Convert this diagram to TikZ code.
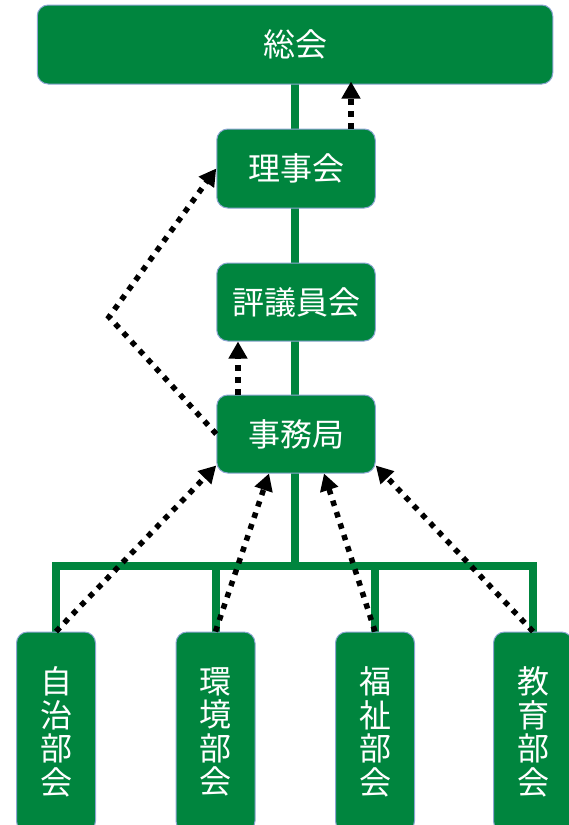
\documentclass[tikz,border=0pt]{standalone}
\usepackage{fontspec}
\setmainfont{Noto Sans CJK JP}
\usetikzlibrary{arrows.meta,backgrounds}
\definecolor{boxgreen}{RGB}{0,133,62}
\definecolor{boxedge}{RGB}{140,165,210}
\begin{document}
\begin{tikzpicture}[x=1pt,y=-1pt,
  box/.style={draw=boxedge,line width=1pt,fill=boxgreen,rounded corners=11pt,text=white,inner sep=0pt,align=center,font=\fontsize{32}{33.5}\selectfont},
  tree/.style={draw=boxgreen,line width=8pt,line join=miter},
  dotarrow/.style={draw=black,line width=5.5pt,dash pattern=on 5.5pt off 6.5pt,-{Triangle[width=18pt,length=17pt]}}]
\useasboundingbox (0,0) rectangle (568,825);
% upper boxes
\node[box,minimum width=515.5pt,minimum height=79pt] (soukai) at (295,44.5) {総会};
\node[box,minimum width=158.5pt,minimum height=79pt] (rijikai) at (296,168.5) {理事会};
\node[box,minimum width=158.5pt,minimum height=78pt] (hyogi) at (296,302) {評議員会};
\node[box,minimum width=158.5pt,minimum height=78pt] (jimu) at (296,434) {事務局};
% lower boxes
\node[box,minimum width=79pt,minimum height=200pt] (b1) at (56,732) {自\\治\\部\\会};
\node[box,minimum width=79pt,minimum height=200pt] (b2) at (215.5,732) {環\\境\\部\\会};
\node[box,minimum width=79pt,minimum height=200pt] (b3) at (375,732) {福\\祉\\部\\会};
\node[box,minimum width=79pt,minimum height=200pt] (b4) at (533,732) {教\\育\\部\\会};
\coordinate (hub) at (295,566);
\coordinate (kink) at (109,317);
% green tree
\begin{scope}[on background layer]
\draw[tree] (soukai.center) -- (hub);
\draw[tree] (b1.north) |- (hub) -| (b4.north);
\draw[tree] (b2.north) -- (b2.north |- hub);
\draw[tree] (b3.north) -- (b3.north |- hub);
\end{scope}
% dotted arrows
\draw[dotarrow] ([xshift=55pt]rijikai.north) -- ([xshift=55pt,yshift=3pt]rijikai.north |- soukai.south);
\draw[dotarrow] ([xshift=-58pt]jimu.north) -- ([xshift=-58pt]jimu.north |- hyogi.south);
\draw[dotarrow] (jimu.west) -- (kink) -- (rijikai.west);
\draw[dotarrow] (b1.north) -- ([yshift=8pt]jimu.south west);
\draw[dotarrow] (b2.north) -- ([xshift=-27pt]jimu.south);
\draw[dotarrow] (b3.north) -- ([xshift=28pt]jimu.south);
\draw[dotarrow] (b4.north) -- ([yshift=8pt]jimu.south east);
\end{tikzpicture}
\end{document}
